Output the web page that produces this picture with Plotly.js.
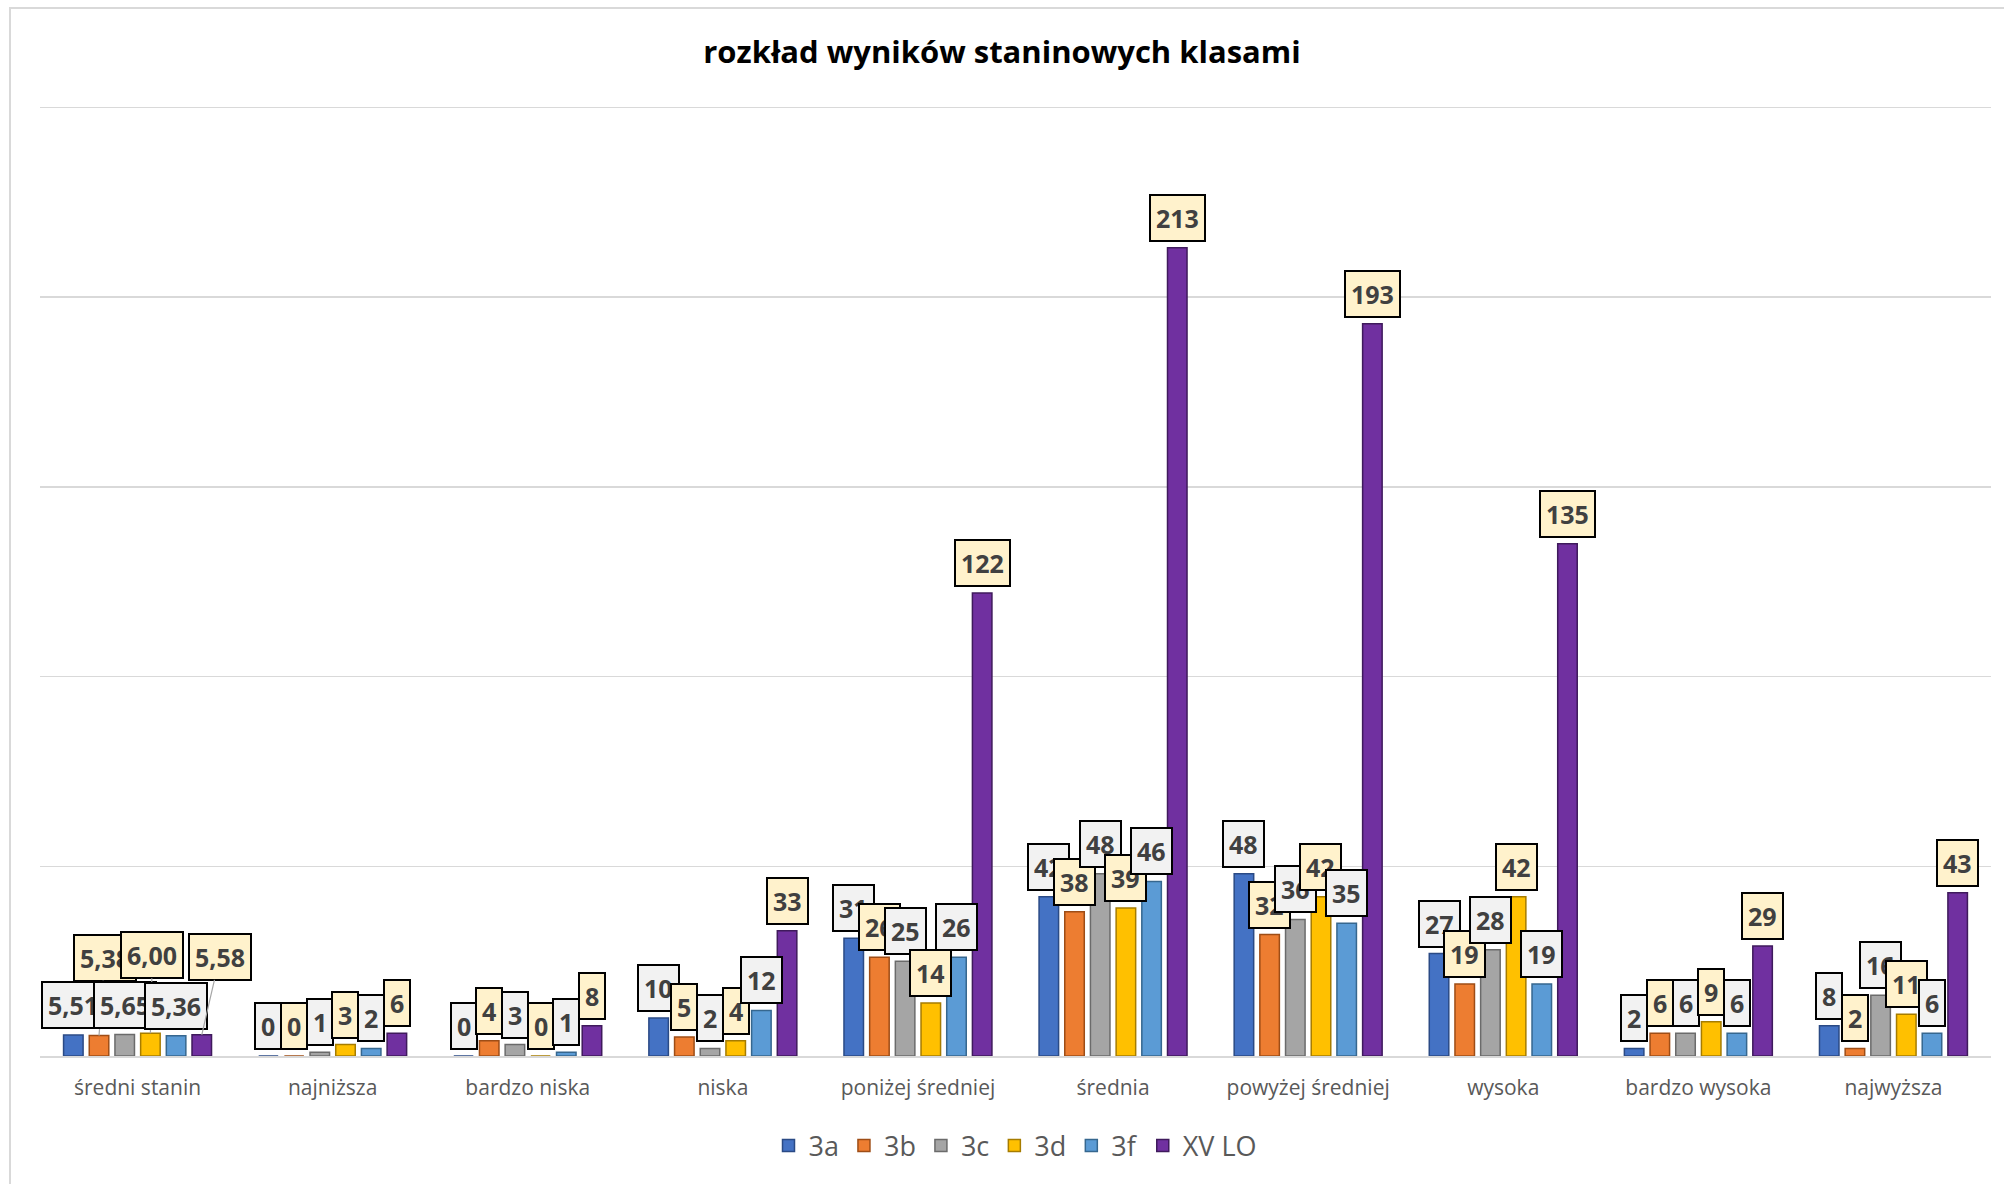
<!DOCTYPE html>
<html>
<head>
<meta charset="utf-8">
<script src="https://cdn.plot.ly/plotly-3.0.1.min.js"></script>
<style>
  html, body { margin: 0; padding: 0; background: #ffffff; }
  #chart { width: 2004px; height: 1184px; }
  #frame { position: absolute; left: 9px; top: 7px; width: 2010px; height: 1200px;
           border: 2px solid #d9d9d9; pointer-events: none; }
</style>
</head>
<body>
<div id="chart"></div>
<div id="frame"></div>
<script>
// ---- data ----
const categories = ["średni stanin", "najniższa", "bardzo niska", "niska", "poniżej średniej",
                    "średnia", "powyżej średniej", "wysoka", "bardzo wysoka", "najwyższa"];
const seriesNames = ["3a", "3b", "3c", "3d", "3f", "XV LO"];
const s3a  = [5.51, 0, 0, 10, 31, 42, 48, 27, 2, 8];
const s3b  = [5.38, 0, 4, 5, 26, 38, 32, 19, 6, 2];
const s3c  = [5.65, 1, 3, 2, 25, 48, 36, 28, 6, 16];
const s3d  = [6.00, 3, 0, 4, 14, 39, 42, 42, 9, 11];
const s3f  = [5.36, 2, 1, 12, 26, 46, 35, 19, 6, 6];
const sXV  = [5.58, 6, 8, 33, 122, 213, 193, 135, 29, 43];
const seriesValues = [s3a, s3b, s3c, s3d, s3f, sXV];
const gridValues = [50, 100, 150, 200, 250];

// ---- styles ----
const colors     = ["#4472c4", "#ed7d31", "#a5a5a5", "#ffc000", "#5b9bd5", "#7030a0"];
const edgeColors = ["#2a4a85", "#9e4d16", "#6b6b6b", "#a67c00", "#36678f", "#3f1a5c"];
const labelFills = ["#f2f2f2", "#fff2cc", "#f2f2f2", "#fff2cc", "#f2f2f2", "#fff2cc"];
const BARGAP = 0.21;
const FONT = "Open Sans, Noto Sans, sans-serif";

const traces = seriesNames.map((name, i) => ({
  type: "bar",
  name: name,
  x: categories,
  y: seriesValues[i],
  marker: { color: colors[i], line: { color: edgeColors[i], width: 1.5 } },
  hoverinfo: "skip"
}));

function fmt(v, ci) {
  if (ci === 0) return v.toFixed(2).replace(".", ",");
  return String(Math.round(v));
}

// data labels as boxed annotations, positioned via the axis scale
const pitch = (1 - BARGAP) / seriesNames.length;
const annotations = [];
seriesNames.forEach((name, si) => {
  seriesValues[si].forEach((v, ci) => {
    const xc = ci + (si - (seriesNames.length - 1) / 2) * pitch;
    const raised = (ci === 0 && si % 2 === 1);
    const a = {
      x: xc, y: v, xref: "x", yref: "y",
      text: "<b>" + fmt(v, ci) + "</b>",
      font: { family: FONT, size: 25, color: "#404040" },
      bgcolor: labelFills[si],
      bordercolor: "#000000",
      borderwidth: 2,
      borderpad: 5
    };
    if (raised) {
      a.showarrow = true;
      a.arrowhead = 0;
      a.arrowwidth = 1.2;
      a.arrowcolor = "#a6a6a6";
      a.ax = si === 5 ? 18 : (si === 1 ? 6 : 2);
      a.ay = -78;
      a.standoff = 0;
    } else {
      a.showarrow = false;
      a.yanchor = "bottom";
      a.yshift = 6;
    }
    annotations.push(a);
  });
});

const layout = {
  width: 2004,
  height: 1184,
  paper_bgcolor: "#ffffff",
  plot_bgcolor: "#ffffff",
  margin: { l: 40, r: 13, t: 96, b: 128 },
  title: {
    text: "<b>rozkład wyników staninowych klasami</b>",
    font: { family: FONT, size: 31, color: "#000000" },
    x: 0.5, xanchor: "center",
    y: 1 - 52 / 1184, yref: "container", yanchor: "middle"
  },
  barmode: "group",
  bargap: BARGAP,
  bargroupgap: 0.24,
  xaxis: {
    type: "category",
    range: [-0.5, 9.5],
    showline: true,
    linecolor: "#d9d9d9",
    linewidth: 2,
    ticks: "",
    ticklabelstandoff: 12,
    tickfont: { family: FONT, size: 21, color: "#595959" },
    showgrid: false,
    fixedrange: true
  },
  yaxis: {
    range: [0, 253],
    tickvals: gridValues,
    showticklabels: false,
    showgrid: true,
    gridcolor: "#d9d9d9",
    gridwidth: 1.5,
    zeroline: false,
    showline: false,
    ticks: "",
    fixedrange: true
  },
  showlegend: true,
  legend: {
    orientation: "h",
    x: 0.5, xanchor: "center",
    y: -(1146 - 1056) / 960, yanchor: "middle",
    font: { family: FONT, size: 27, color: "#595959" },
    itemwidth: 30,
    traceorder: "normal"
  },
  annotations: annotations
};

Plotly.newPlot("chart", traces, layout, { displayModeBar: false, staticPlot: true });
</script>
</body>
</html>
